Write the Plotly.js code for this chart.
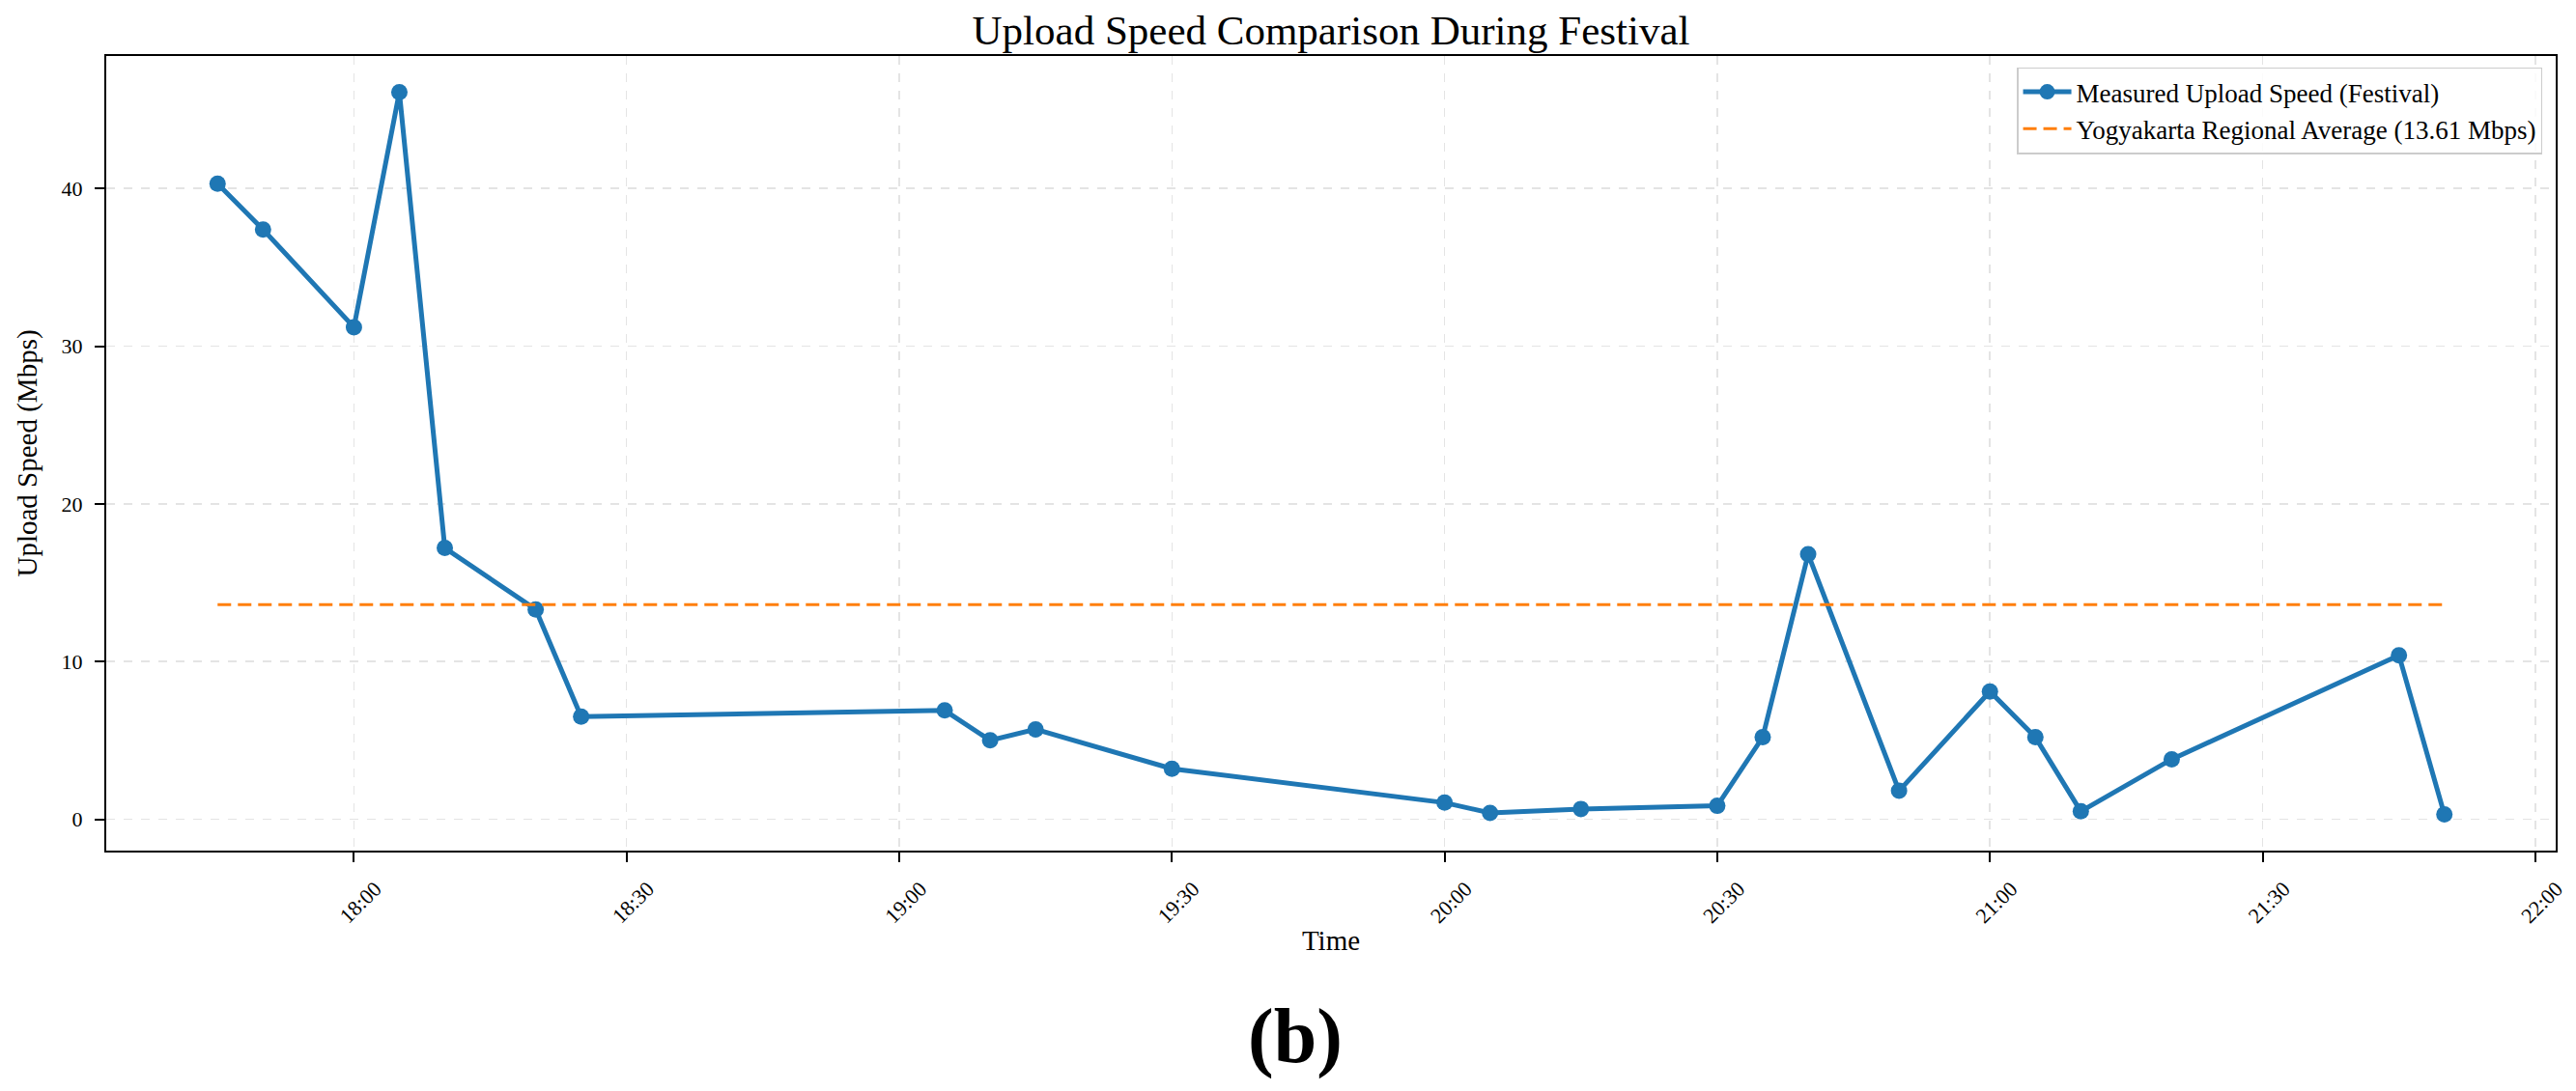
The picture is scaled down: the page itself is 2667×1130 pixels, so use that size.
<!DOCTYPE html>
<html>
<head>
<meta charset="utf-8">
<script src="https://cdn.plot.ly/plotly-3.0.1.min.js"></script>
<style>
  html, body { margin: 0; padding: 0; background: #fff; }
  #uploadchart { width: 2667px; height: 1130px; }
</style>
</head>
<body>
<div id="uploadchart"></div>
<script>
// measurement times (festival evening) and upload speeds in Mbps
var times = ['17:45', '17:50', '18:00', '18:05', '18:10', '18:20', '18:25',
             '19:05', '19:10', '19:15', '19:30', '20:00', '20:05', '20:15',
             '20:30', '20:35', '20:40', '20:50', '21:00', '21:05', '21:10',
             '21:20', '21:45', '21:50'];
var upload = [40.3, 37.4, 31.2, 46.1, 17.2, 13.3, 6.5,
              6.9, 5.0, 5.7, 3.2, 1.05, 0.4, 0.65,
              0.85, 5.2, 16.8, 1.8, 8.1, 5.2, 0.5,
              3.8, 10.4, 0.3];
var regionalAvg = 13.61;
var day = '2024-01-01 ';

var xTimes = times.map(function (t) { return day + t; });

var measured = {
  x: xTimes,
  y: upload,
  type: 'scatter',
  mode: 'lines+markers',
  name: 'Measured Upload Speed (Festival)',
  line: {color: '#1f77b4', width: 5},
  marker: {color: '#1f77b4', size: 17}
};

var average = {
  x: [xTimes[0], xTimes[xTimes.length - 1]],
  y: [regionalAvg, regionalAvg],
  type: 'scatter',
  mode: 'lines',
  name: 'Yogyakarta Regional Average (' + regionalAvg + ' Mbps)',
  line: {color: '#ff7f0e', width: 3, dash: '14px,7px'}
};

var fnt = 'Liberation Serif, Times New Roman, serif';

var layout = {
  width: 2667,
  height: 1130,
  margin: {t: 58, b: 249, l: 110, r: 21},
  paper_bgcolor: '#fff',
  plot_bgcolor: '#fff',
  font: {family: fnt, color: '#000', size: 22},
  title: {
    text: 'Upload Speed Comparison During Festival',
    font: {family: fnt, size: 43, color: '#000'},
    x: 0.5, xref: 'paper', xanchor: 'center',
    y: 0.9726, yref: 'container', yanchor: 'middle'
  },
  xaxis: {
    type: 'date',
    range: [day + '17:32:45', day + '22:02:15'],
    tick0: day + '18:00',
    dtick: 1800000,
    tickformat: '%H:%M',
    tickangle: -45,
    ticklabelshift: 22,
    ticklabelstandoff: 6,
    tickfont: {size: 22},
    ticks: 'outside', ticklen: 10, tickwidth: 2, tickcolor: '#000',
    showline: true, mirror: true, linecolor: '#000', linewidth: 2,
    showgrid: true, gridcolor: '#e4e4e4', gridwidth: 1.5, griddash: 'dash',
    zeroline: false,
    title: {text: 'Time', font: {size: 29}, standoff: 4}
  },
  yaxis: {
    range: [-1.99, 48.4],
    tick0: 0,
    dtick: 10,
    tickfont: {size: 22},
    ticklabelstandoff: 8,
    ticks: 'outside', ticklen: 10, tickwidth: 2, tickcolor: '#000',
    showline: true, mirror: true, linecolor: '#000', linewidth: 2,
    showgrid: true, gridcolor: '#e4e4e4', gridwidth: 1.5, griddash: 'dash',
    zeroline: false,
    title: {text: 'Upload Speed (Mbps)', font: {size: 29}, standoff: 16}
  },
  legend: {
    x: 0.9945, y: 0.986,
    xanchor: 'right', yanchor: 'top',
    bgcolor: 'rgba(255,255,255,0.85)',
    bordercolor: '#cccccc',
    borderwidth: 1.5,
    font: {size: 27, color: '#000'},
    itemwidth: 50,
    tracegroupgap: 0
  },
  showlegend: true,
  annotations: [{
    text: '<b>(b)</b>',
    xref: 'paper', yref: 'paper',
    x: 0.4854, y: -0.2345,
    xanchor: 'center', yanchor: 'middle',
    showarrow: false,
    font: {family: fnt, size: 80, color: '#000'}
  }]
};

Plotly.newPlot('uploadchart', [measured, average], layout, {displayModeBar: false, staticPlot: true});
</script>
</body>
</html>
